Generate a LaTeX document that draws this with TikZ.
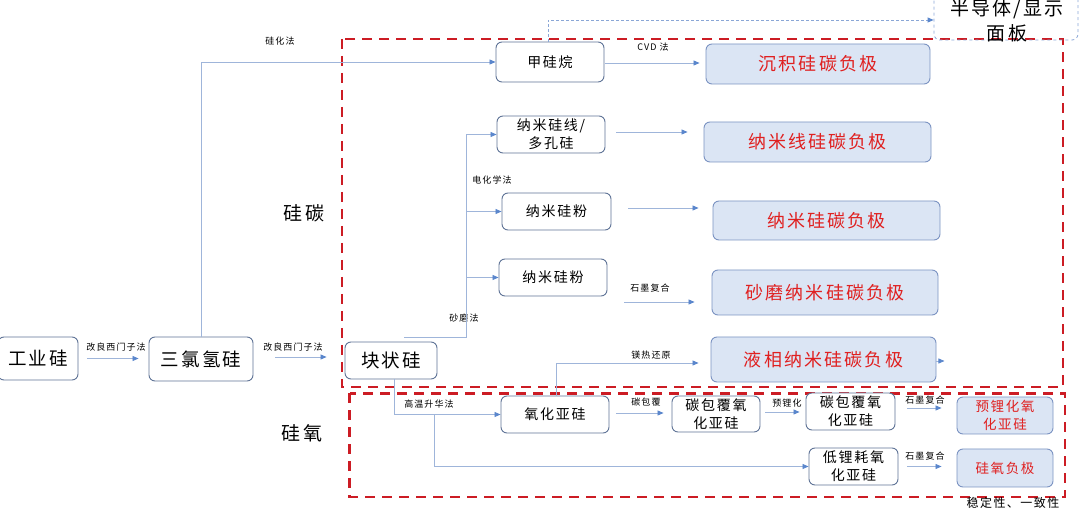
\documentclass[tikz,border=0pt]{standalone}
\usepackage{fontspec}
\setmainfont{Noto Sans CJK SC}
\newfontfamily\cjksp[LetterSpace=12]{Noto Sans CJK SC}
\usetikzlibrary{arrows.meta}
\definecolor{boxc}{HTML}{5F7396}
\definecolor{fjd}{HTML}{7B93C2}
\definecolor{fjf}{HTML}{DBE5F4}
\definecolor{redt}{HTML}{E02020}
\definecolor{redd}{HTML}{CC1C24}
\definecolor{linec}{HTML}{9FB5DA}
\definecolor{tipc}{HTML}{5A86CC}
\definecolor{dashb}{HTML}{8AA6D6}
\tikzset{
  box/.style={draw=boxc, rounded corners=6pt, line width=0.9pt, fill=white, align=center, inner sep=0pt,
    font=\fontsize{14}{18}\selectfont\cjksp},
  bigbox/.style={box, font=\fontsize{18.5}{22}\selectfont\cjksp},
  fj/.style={draw=fjd, fill=fjf, rounded corners=6pt, line width=0.9pt, text=redt, inner sep=0pt, align=center,
    font=\fontsize{18}{22}\selectfont\cjksp},
  fjs/.style={fj, font=\fontsize{13.5}{18}\selectfont\cjksp},
  conn/.style={draw=linec, line width=0.8pt},
  arr/.style={conn, -{Triangle[length=6pt,width=5pt,fill=tipc,color=tipc]}},
  lab/.style={font=\fontsize{9}{10}\selectfont\cjksp, inner sep=0pt},
  sect/.style={font=\fontsize{19}{22}\selectfont\cjksp, inner sep=0pt},
  rdash/.style={draw=redd, line width=2.8pt, dash pattern=on 10pt off 7pt},
}
\begin{document}
\begin{tikzpicture}[x=1pt,y=-1pt]
\useasboundingbox (0,0) rectangle (1080,510);
% red dashed regions
\draw[rdash] (342,39) rectangle (1063,387);
\draw[rdash] (349.5,393.5) rectangle (1065,497);
% section labels
\node[sect] (sc) at (304,213) {硅碳};
\node[sect] (so) at (302,433) {硅氧};
% main nodes
\node[bigbox, minimum width=80pt, minimum height=43pt] (gyg) at (38,358.5) {工业硅};
\node[bigbox, minimum width=104pt, minimum height=44pt] (slq) at (201,359) {三氯氢硅};
\node[bigbox, minimum width=92pt, minimum height=37pt] (kzg) at (391,360.5) {块状硅};
\node[box, minimum width=108pt, minimum height=40pt] (jgw) at (550,62) {甲硅烷};
\node[box, minimum width=108pt, minimum height=37pt] (nmx) at (551,134.5) {纳米硅线/\\多孔硅};
\node[box, minimum width=109pt, minimum height=37pt] (nmf1) at (556.5,211.5) {纳米硅粉};
\node[box, minimum width=108pt, minimum height=37pt] (nmf2) at (553,277.5) {纳米硅粉};
\node[box, minimum width=108pt, minimum height=37pt] (yhyg) at (555,414.5) {氧化亚硅};
\node[box, minimum width=88pt, minimum height=36pt] (tbf1) at (716,414) {碳包覆氧\\化亚硅};
\node[box, minimum width=89pt, minimum height=37pt] (tbf2) at (850.5,411.5) {碳包覆氧\\化亚硅};
\node[box, minimum width=89pt, minimum height=37pt] (dlh) at (853.5,466.5) {低锂耗氧\\化亚硅};
% semiconductor box
\node[draw=dashb, dashed, rounded corners=6pt, line width=0.8pt, minimum width=144pt, minimum height=48pt, inner sep=0pt] (bdt) at (1006,16) {};
\node[font=\fontsize{19}{25}\selectfont\cjksp, align=center, inner sep=0pt] (bdtt) at (1007,20.5) {半导体/显示\\面板};
% anode products
\node[fj, minimum width=224pt, minimum height=40pt] (cjfj) at (818,64) {沉积硅碳负极};
\node[fj, minimum width=227pt, minimum height=40pt] (nmxfj) at (817.5,142) {纳米线硅碳负极};
\node[fj, minimum width=227pt, minimum height=39pt] (nmgfj) at (826.5,220.5) {纳米硅碳负极};
\node[fj, minimum width=226pt, minimum height=45pt] (smfj) at (825,292.5) {砂磨纳米硅碳负极};
\node[fj, minimum width=225pt, minimum height=45pt] (yxfj) at (823.5,359.5) {液相纳米硅碳负极};
\node[fjs, minimum width=96pt, minimum height=37pt] (ylfj) at (1005,415.5) {预锂化氧\\化亚硅};
\node[fjs, minimum width=96pt, minimum height=38pt] (fyfj) at (1005,468) {硅氧负极};
% labels
\node[lab] (l1) at (280,41) {硅化法};
\node[lab] (l2) at (116,347) {改良西门子法};
\node[lab] (l3) at (293,347) {改良西门子法};
\node[lab] (l4) at (653,47) {CVD 法};
\node[lab] (l5) at (492,180) {电化学法};
\node[lab] (l6) at (464,318) {砂磨法};
\node[lab] (l7) at (650,288) {石墨复合};
\node[lab] (l8) at (651,355) {镁热还原};
\node[lab] (l9) at (429,404) {高温升华法};
\node[lab] (l10) at (646,402) {碳包覆};
\node[lab] (l11) at (787,403) {预锂化};
\node[lab] (l12) at (925,400) {石墨复合};
\node[lab] (l13) at (925,456) {石墨复合};
\node[font=\fontsize{12}{14}\selectfont\cjksp, inner sep=0pt] (note) at (1013,503) {稳定性、一致性};
% connectors
\draw[arr, shorten <=9pt, shorten >=10pt] (gyg.east) -- (gyg.east -| slq.west);
\draw[arr, shorten <=22pt, shorten >=18pt] ([yshift=2pt]slq.east) -- ([yshift=2pt]slq.east -| kzg.west);
\draw[arr] (slq.north) |- (jgw.west);
\coordinate (d1) at (548,20);
\draw[draw=dashb, line width=0.8pt, dash pattern=on 3pt off 2pt, -{Triangle[length=6pt,width=5pt,fill=tipc,color=tipc]}]
  (jgw.north -| d1) -- (d1) -- (d1 -| bdt.west);
\draw[arr, shorten <=1pt, shorten >=6pt] ([yshift=-1pt]jgw.east) -- ([yshift=-1pt]jgw.east -| cjfj.west);
\draw[arr, shorten <=11pt, shorten >=16pt] ([yshift=2.5pt]nmx.east) -- ([yshift=2.5pt]nmx.east -| nmxfj.west);
\draw[arr, shorten <=17pt, shorten >=14pt] ([yshift=3.5pt]nmf1.east) -- ([yshift=3.5pt]nmf1.east -| nmgfj.west);
\coordinate (a3s) at (624,302);
\draw[arr, shorten >=17pt] (a3s) -- (a3s -| smfj.west);
% block silicon tree
\coordinate (kb) at (404,337);
\coordinate (vx) at (466,0);
\draw[conn] (kb) -| (vx |- nmx.west);
\draw[arr] (vx |- nmx.west) -- (nmx.west);
\draw[arr] (vx |- nmf1.west) -- (nmf1.west);
\draw[arr] (vx |- nmf2.west) -- (nmf2.west);
\draw[arr] ([xshift=3pt]kzg.south) |- (yhyg.west);
\coordinate (br) at (434,414.5);
\draw[arr] (br) |- (dlh.west);
\coordinate (mg) at (556,363);
\draw[arr, shorten >=12pt] ([xshift=1pt]yhyg.north) -- (mg) -- (mg -| yxfj.west);
\draw[arr] ([yshift=-1.5pt]yxfj.east) -- ++(8,0);
\draw[arr, shorten <=7pt, shorten >=8pt] ([yshift=1.5pt]yhyg.east) -- ([yshift=1.5pt]yhyg.east -| tbf1.west);
\draw[arr, shorten <=5pt, shorten >=6pt] ([yshift=2pt]tbf1.east) -- ([yshift=2pt]tbf1.east -| tbf2.west);
\draw[arr, shorten <=12pt, shorten >=15pt] ([yshift=3.5pt]tbf2.east) -- ([yshift=3.5pt]tbf2.east -| ylfj.west);
\draw[arr, shorten <=9pt, shorten >=15pt] (dlh.east) -- (dlh.east -| fyfj.west);
\end{tikzpicture}
\end{document}
